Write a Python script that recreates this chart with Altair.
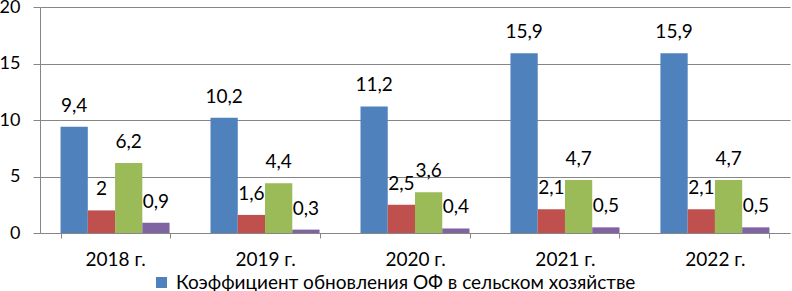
import altair as alt
import pandas as pd

years = ["2018 г.", "2019 г.", "2020 г.", "2021 г.", "2022 г."]
series = [
    "Коэффициент обновления ОФ в сельском хозяйстве",
    "Коэффициент выбытия ОФ в сельском хозяйстве",
    "Коэффициент обновления ОФ в экономике",
    "Коэффициент выбытия ОФ в экономике",
]
colors = ["#4F81BD", "#C0504D", "#9BBB59", "#8064A2"]
values = [
    [9.4, 10.2, 11.2, 15.9, 15.9],
    [2.0, 1.6, 2.5, 2.1, 2.1],
    [6.2, 4.4, 3.6, 4.7, 4.7],
    [0.9, 0.3, 0.4, 0.5, 0.5],
]

rows = []
for si, s in enumerate(series):
    for yi, y in enumerate(years):
        v = values[si][yi]
        lab = (f"{v:g}").replace(".", ",")
        rows.append({"year": y, "series": s, "order": si, "value": v, "label": lab})
df = pd.DataFrame(rows)

FONT = "Lato"
FS = 19

x_enc = alt.X("year:N", sort=years, title=None,
              scale=alt.Scale(paddingInner=0.273, paddingOuter=0.137),
              axis=alt.Axis(labelAngle=0, labelFont=FONT, labelFontSize=FS, labelColor="#000000",
                            domainColor="#868686", tickColor="#868686", tickSize=5,
                            tickBand="extent", labelPadding=12, grid=False))
xo = alt.XOffset("series:N", sort=series, scale=alt.Scale(paddingInner=0, paddingOuter=0))

base = alt.Chart(df)

bars = base.mark_bar().encode(
    x=x_enc,
    xOffset=xo,
    y=alt.Y("value:Q", title=None,
            scale=alt.Scale(domain=[0, 20], nice=False),
            axis=alt.Axis(values=[0, 5, 10, 15, 20], labelFont=FONT, labelFontSize=18,
                          labelColor="#000000", domainColor="#868686", tickColor="#868686",
                          gridColor="#868686", tickSize=7, labelPadding=13)),
    color=alt.Color("series:N", sort=series,
                    scale=alt.Scale(domain=series, range=colors),
                    legend=alt.Legend(values=[series[0]], title=None, orient="none",
                                      legendX=112, legendY=266, symbolType="square",
                                      symbolSize=121, symbolStrokeWidth=0, labelFont=FONT,
                                      labelFontSize=FS, labelColor="#000000", labelOffset=5,
                                      labelLimit=1000)),
)

labels = base.mark_text(baseline="alphabetic", dy=-15, font=FONT, fontSize=FS, color="#000000").encode(
    x=alt.X("year:N", sort=years),
    xOffset=xo,
    y=alt.Y("value:Q"),
    text="label:N",
)

chart = alt.layer(bars, labels).properties(
    width=750, height=226,
    autosize=alt.AutoSizeParams(type="none"),
    padding={"left": 40, "top": 7, "right": 2, "bottom": 58},
).configure_view(stroke=None).configure_axis(gridWidth=1)

chart.save("out.html", embed_options={"renderer": "svg", "actions": False})
